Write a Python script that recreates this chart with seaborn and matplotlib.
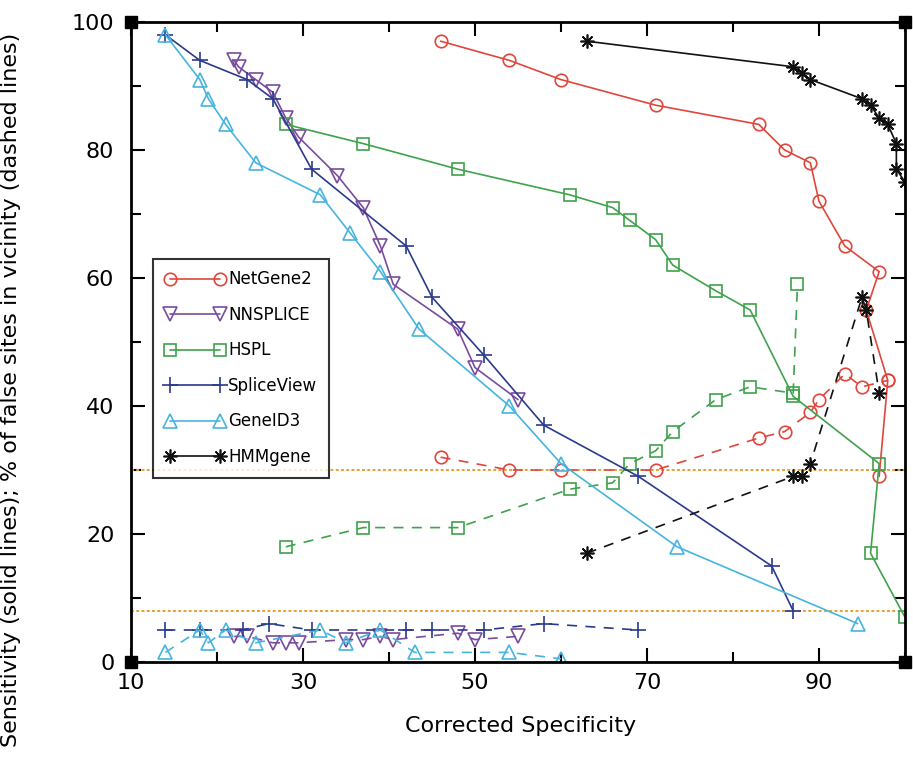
import numpy as np
import pandas as pd
import matplotlib
matplotlib.use("Agg")
import matplotlib.pyplot as plt
import seaborn as sns

sns.set_style("ticks")
plt.rcParams['font.family'] = ['DejaVu Sans']
plt.rcParams['text.color'] = 'black'
plt.rcParams['axes.labelcolor'] = 'black'
plt.rcParams['xtick.color'] = 'black'
plt.rcParams['ytick.color'] = 'black'

# NetGene2
netgene_x = [46, 54, 60, 71, 83, 86, 89, 90, 93, 97, 95.5, 98, 97]
netgene_sens = [97, 94, 91, 87, 84, 80, 78, 72, 65, 61, 55, 44, 29]
netgene_dx = [46, 54, 60, 71, 83, 86, 89, 90, 93, 95, 98]
netgene_false = [32, 30, 30, 30, 35, 36, 39, 41, 45, 43, 44]

# NNSPLICE
nnsplice_x = [22, 22.5, 24.5, 26.5, 28, 29.5, 34, 37, 39, 40.5, 48, 50, 55]
nnsplice_sens = [94, 93, 91, 89, 85, 82, 76, 71, 65, 59, 52, 46, 41]
nnsplice_dx = [22, 23.5, 26.5, 28, 29.5, 35, 37, 39, 40.5, 48, 50, 55]
nnsplice_false = [4, 4, 3, 3, 3, 3.5, 3.5, 4, 3.5, 4.5, 3.5, 4]

# HSPL
hspl_x = [28, 37, 48, 61, 66, 68, 71, 73, 78, 82, 87, 97, 96, 100]
hspl_sens = [84, 81, 77, 73, 71, 69, 66, 62, 58, 55, 41.5, 31, 17, 7]
hspl_dx = [28, 37, 48, 61, 66, 68, 71, 73, 78, 82, 87, 87.5]
hspl_false = [18, 21, 21, 27, 28, 31, 33, 36, 41, 43, 42, 59]

# SpliceView
spliceview_x = [14, 18, 23.5, 26.5, 31, 42, 45, 51, 58, 69, 84.5, 87]
spliceview_sens = [98, 94, 91, 88, 77, 65, 57, 48, 37, 29, 15, 8]
spliceview_dx = [14, 18, 23, 26, 31, 42, 45, 51, 58, 69]
spliceview_false = [5, 5, 5, 6, 5, 5, 5, 5, 6, 5]

# GeneID3
geneid_x = [14, 18, 19, 21, 24.5, 32, 35.5, 39, 43.5, 54, 60, 73.5, 94.5]
geneid_sens = [98, 91, 88, 84, 78, 73, 67, 61, 52, 40, 31, 18, 6]
geneid_dx = [14, 18, 19, 21, 24.5, 32, 35, 39, 43, 54, 60]
geneid_false = [1.5, 5, 3, 5, 3, 5, 3, 5, 1.5, 1.5, 0.5]

# HMMgene
hmm_x = [63, 87, 88, 89, 95, 96, 97, 98, 99, 99, 100]
hmm_sens = [97, 93, 92, 91, 88, 87, 85, 84, 81, 77, 75]
hmm_dx = [63, 87, 88, 89, 95, 95.5, 97]
hmm_false = [17, 29, 29, 31, 57, 55, 42]

ref_levels = [30, 8]

methods = ["NetGene2", "NNSPLICE", "HSPL", "SpliceView", "GeneID3", "HMMgene"]
solid = [(netgene_x, netgene_sens), (nnsplice_x, nnsplice_sens), (hspl_x, hspl_sens),
         (spliceview_x, spliceview_sens), (geneid_x, geneid_sens), (hmm_x, hmm_sens)]
dashed = [(netgene_dx, netgene_false), (nnsplice_dx, nnsplice_false), (hspl_dx, hspl_false),
          (spliceview_dx, spliceview_false), (geneid_dx, geneid_false), (hmm_dx, hmm_false)]

colors = ["#e0463c", "#7a4c9c", "#3fa24c", "#2b3a8c", "#47b4df", "#111111"]
markers = ["o", "v", "s", "+", "^", (8, 2, 0)]
msizes = [9, 10, 8, 11, 10, 10]

fig = plt.figure(figsize=(9.13, 7.74), dpi=100)
ax = fig.add_axes([0.1435, 0.1447, 0.8477, 0.8269])

for lvl in ref_levels:
    ax.axhline(lvl, color="#e8a030", ls=(0, (1.5, 1.2)), lw=1.4, zorder=1)

for name, (sx, sy), (dx, dy), c, m, ms in zip(methods, solid, dashed, colors, markers, msizes):
    kw = dict(color=c, marker=m, markersize=ms, markerfacecolor="none",
              markeredgecolor=c, markeredgewidth=1.2, linewidth=1.2,
              sort=False, estimator=None, ax=ax)
    sns.lineplot(x=sx, y=sy, label=name, **kw)
    ld = sns.lineplot(x=dx, y=dy, **kw)
    ld.lines[-1].set_dashes((6, 5))

ax.set_xlim(10, 100)
ax.set_ylim(0, 100)
ax.set_xticks([10, 30, 50, 70, 90])
ax.set_xticks([20, 40, 60, 80, 100], minor=True)
ax.set_yticks([0, 20, 40, 60, 80, 100])
ax.set_yticks([10, 30, 50, 70, 90], minor=True)
ax.tick_params(which="both", direction="in", top=True, right=True, width=1.5, color="black")
ax.tick_params(which="major", length=10)
ax.tick_params(which="minor", length=7)
ax.tick_params(axis="y", which="major", labelsize=16, pad=12)
ax.tick_params(axis="x", which="major", labelsize=16, pad=8)
for s in ax.spines.values():
    s.set_linewidth(2)
    s.set_color("black")

# corner squares
ax.plot([0, 1, 0, 1], [0, 0, 1, 1], "s", color="black", ms=8,
        transform=ax.transAxes, clip_on=False, zorder=10)

ax.set_xlabel("Corrected Specificity", fontsize=16)
ax.set_ylabel("Sensitivity (solid lines); % of false sites in vicinity (dashed lines)", fontsize=16)
ax.xaxis.set_label_coords(0.503, -0.085)
ax.yaxis.set_label_coords(-0.142, 0.425)

leg = ax.legend(loc="upper left", bbox_to_anchor=(0.018, 0.643), numpoints=2,
                handlelength=3.6, fontsize=12, frameon=True, fancybox=False,
                edgecolor="black", borderpad=0.7, labelspacing=1.05, handletextpad=0.2)
leg.get_frame().set_linewidth(1.5)

fig.savefig("out.png", dpi=100)
